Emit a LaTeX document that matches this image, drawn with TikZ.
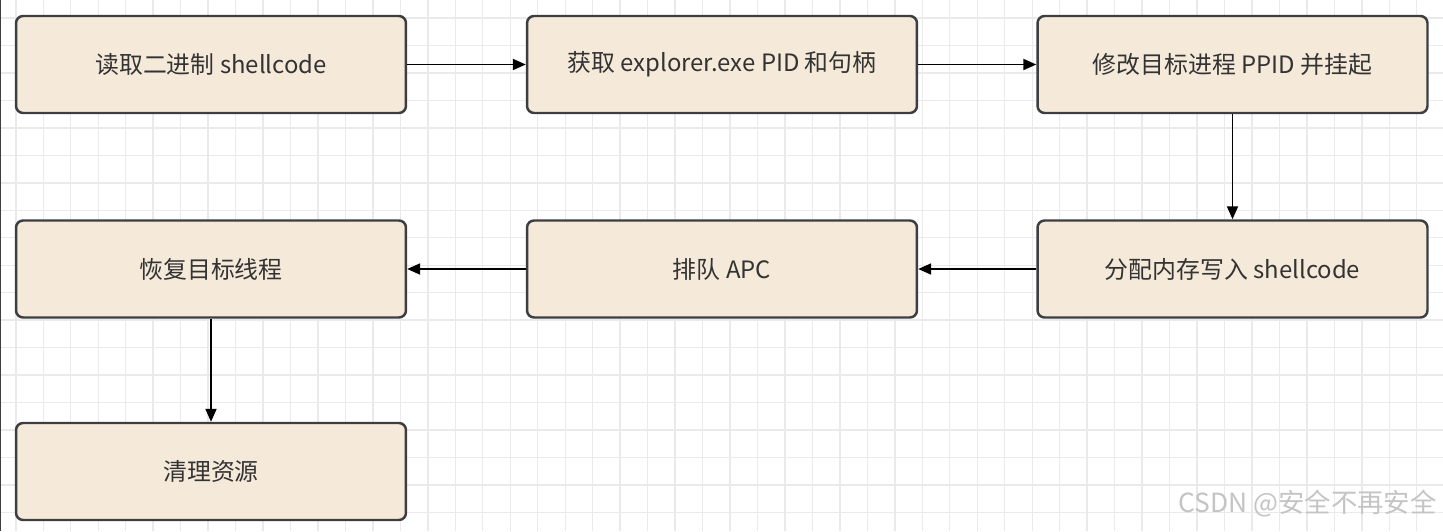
\documentclass[tikz,border=0pt]{standalone}
\usepackage{fontspec}
\newfontfamily\cjk{Noto Sans CJK SC}
\usepackage{tikz}
\usetikzlibrary{arrows.meta,positioning}
\usepackage{xcolor}
\definecolor{BoxFill}{RGB}{245,233,217}
\definecolor{BoxLine}{RGB}{60,62,66}
\definecolor{TextGray}{RGB}{51,51,51}
\definecolor{GridGray}{RGB}{234,234,234}
\definecolor{MarkGray}{RGB}{196,196,196}

\begin{document}
\begin{tikzpicture}[x=0.02cm,y=-0.02cm,
    stepbox/.style={draw=BoxLine,fill=BoxFill,line width=1.4pt,rounded corners=4pt,
      minimum width=7.8cm,minimum height=1.94cm,font=\cjk\fontsize{13.6}{16}\selectfont,
      text=TextGray,inner sep=0pt},
    flow/.style={line width=1.1pt,draw=black,-{Triangle[length=0.26cm,width=0.22cm]}}]
  \useasboundingbox (0,0) rectangle (1443,531);
  % Grid background
  \fill[white] (0,0) rectangle (1443,531);
  \foreach \i in {0,...,52}
    \draw[GridGray,line width=0.8pt] ({15.8+27.47*\i},0) -- ({15.8+27.47*\i},531);
  \foreach \j in {0,...,18}
    \draw[GridGray,line width=0.8pt] (0,{18+27.47*\j}) -- (1443,{18+27.47*\j});
  \draw[BoxLine,line width=0.8pt] (0.5,0) -- (0.5,531);
  % Steps, first row
  \node[stepbox] (read)   at (211,64.5)   {读取二进制 shellcode};
  \node[stepbox] (handle) at (722,64.5)   {获取 explorer.exe PID 和句柄};
  \node[stepbox] (ppid)   at (1232.5,64.5) {修改目标进程 PPID 并挂起};
  % Steps, second row
  \node[stepbox] (alloc)  at (1232.5,269) {分配内存写入 shellcode};
  \node[stepbox] (apc)    at (722,269)    {排队 APC};
  \node[stepbox] (resume) at (211,269)    {恢复目标线程};
  % Last step
  \node[stepbox] (clean)  at (211,471.5)  {清理资源};
  % Connectors
  \draw[flow] (read) -- (handle);
  \draw[flow] (handle) -- (ppid);
  \draw[flow] (ppid) -- (alloc);
  \draw[flow] (alloc) -- (apc);
  \draw[flow] (apc) -- (resume);
  \draw[flow] (resume) -- (clean);
  % Watermark
  \node[anchor=south east,inner sep=0pt,text=MarkGray,font=\cjk\fontsize{15}{18}\selectfont]
    (mark) at (1437,517) {CSDN @安全不再安全};
\end{tikzpicture}
\end{document}
